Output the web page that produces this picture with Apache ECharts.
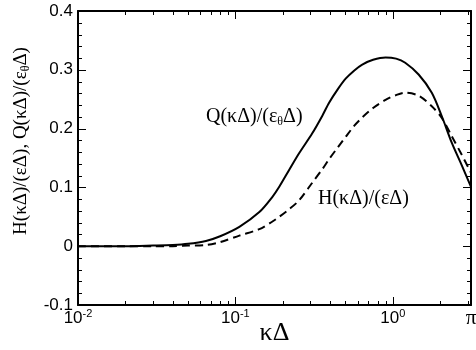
<!DOCTYPE html>
<html>
<head>
<meta charset="utf-8">
<script src="https://cdn.jsdelivr.net/npm/echarts@6/dist/echarts.min.js"></script>
<style>
  html, body { margin: 0; padding: 0; background: #fff; }
  #chart { width: 476px; height: 350px; }
</style>
</head>
<body>
<div id="chart"></div>
<script>
// kappa*Delta values and the two curves
var kx = [0.01, 0.02, 0.03, 0.04, 0.05, 0.065, 0.08, 0.106, 0.142, 0.172, 0.19, 0.22, 0.254, 0.308, 0.357, 0.394, 0.45, 0.502, 0.57, 0.64, 0.75, 0.9, 1.05, 1.2, 1.46, 1.77, 2.05, 2.37, 2.75, Math.PI];
var qVals = [0, 0, 0.001, 0.002, 0.004, 0.009, 0.017, 0.033, 0.058, 0.084, 0.101, 0.13, 0.158, 0.192, 0.222, 0.244, 0.268, 0.285, 0.299, 0.309, 0.317, 0.321, 0.319, 0.312, 0.292, 0.261, 0.221, 0.176, 0.137, 0.101];
var hVals = [0, 0, 0, 0, 0.001, 0.002, 0.007, 0.018, 0.029, 0.042, 0.05, 0.063, 0.078, 0.108, 0.131, 0.148, 0.169, 0.186, 0.205, 0.219, 0.235, 0.249, 0.257, 0.261, 0.256, 0.238, 0.218, 0.187, 0.155, 0.125];

var xMajor = [0.01, 0.1, 1];
var xLabels = [0.01, 0.1, 1, Math.PI];
var xMinor = [0.02, 0.03, 0.04, 0.05, 0.06, 0.07, 0.08, 0.09, 0.2, 0.3, 0.4, 0.5, 0.6, 0.7, 0.8, 0.9, 2, 3];
var yMajor = [-0.1, 0, 0.1, 0.2, 0.3, 0.4];
var yMinor = [-0.08, -0.06, -0.04, -0.02, 0.02, 0.04, 0.06, 0.08, 0.12, 0.14, 0.16, 0.18, 0.22, 0.24, 0.26, 0.28, 0.32, 0.34, 0.36, 0.38];

var X_MIN = 0.01, X_MAX = Math.PI, Y_MIN = -0.1, Y_MAX = 0.4;

function pairs(xs, ys) {
  return xs.map(function (x, i) { return [x, ys[i]]; });
}

var chartDom = document.getElementById('chart');
var myChart = echarts.init(chartDom);
var option;

var sansFont = '"Liberation Sans", Arial, sans-serif';
var serifFont = '"Liberation Serif", "Times New Roman", serif';
var frameLine = { show: true, onZero: false, lineStyle: { color: '#000', width: 2 } };

// tick data: [x, y, length in px]
var xTickData = xMajor.map(function (v) { return [v, Y_MIN, 8]; })
  .concat(xMinor.map(function (v) { return [v, Y_MIN, 4]; }));
var yTickData = yMajor.map(function (v) { return [X_MIN, v, 8]; })
  .concat(yMinor.map(function (v) { return [X_MIN, v, 4]; }));

var tickStyle = { stroke: '#000', lineWidth: 1 };

// inward ticks on bottom and top edges
function renderXTick(params, api) {
  var v = api.value(0), len = api.value(2);
  var b = api.coord([v, Y_MIN]);
  var t = api.coord([v, Y_MAX]);
  var x = Math.round(b[0]) + 0.5;
  return {
    type: 'group',
    children: [
      { type: 'line', shape: { x1: x, y1: b[1], x2: x, y2: b[1] - len }, style: tickStyle },
      { type: 'line', shape: { x1: x, y1: t[1], x2: x, y2: t[1] + len }, style: tickStyle }
    ]
  };
}

// inward ticks on left and right edges
function renderYTick(params, api) {
  var v = api.value(1), len = api.value(2);
  var l = api.coord([X_MIN, v]);
  var r = api.coord([X_MAX, v]);
  var y = Math.round(l[1]) + 0.5;
  return {
    type: 'group',
    children: [
      { type: 'line', shape: { x1: l[0], y1: y, x2: l[0] + len, y2: y }, style: tickStyle },
      { type: 'line', shape: { x1: r[0], y1: y, x2: r[0] - len, y2: y }, style: tickStyle }
    ]
  };
}

option = {
  animation: false,
  backgroundColor: '#fff',
  grid: { left: 78, right: 5, top: 11, bottom: 45, containLabel: false, outerBoundsMode: 'none' },
  xAxis: [
    {
      type: 'log', min: X_MIN, max: X_MAX, position: 'bottom',
      name: 'κΔ', nameLocation: 'middle', nameGap: 15, nameMoveOverlap: false,
      nameTextStyle: { fontFamily: serifFont, fontSize: 26, color: '#000' },
      axisLine: frameLine,
      axisTick: { show: false },
      axisLabel: {
        show: true, customValues: xLabels, margin: 3,
        formatter: function (v) {
          if (Math.abs(v - Math.PI) < 1e-6) return '{pi|π}';
          return '{b|10}{sup|' + Math.round(Math.log10(v)) + '}';
        },
        rich: {
          b: { fontFamily: sansFont, fontSize: 17, color: '#000' },
          sup: { fontFamily: sansFont, fontSize: 11, color: '#000', padding: [0, 0, 9, 0] },
          pi: { fontFamily: serifFont, fontSize: 21, color: '#000' }
        }
      },
      splitLine: { show: false }
    },
    {
      type: 'log', min: X_MIN, max: X_MAX, position: 'top',
      axisLine: frameLine, axisTick: { show: false }, axisLabel: { show: false }, splitLine: { show: false }
    }
  ],
  yAxis: [
    {
      type: 'value', min: Y_MIN, max: Y_MAX, interval: 0.1, position: 'left',
      axisLine: frameLine,
      axisTick: { show: false },
      axisLabel: {
        show: true, margin: 5, color: '#000', fontFamily: sansFont, fontSize: 17,
        formatter: function (v) { return Math.abs(v) < 1e-9 ? '0' : String(Math.round(v * 10) / 10); }
      },
      splitLine: { show: false }
    },
    {
      type: 'value', min: Y_MIN, max: Y_MAX, interval: 0.1, position: 'right',
      axisLine: frameLine, axisTick: { show: false }, axisLabel: { show: false }, splitLine: { show: false }
    }
  ],
  series: [
    {
      name: 'Q',
      type: 'line',
      smooth: 0.3,
      showSymbol: false,
      xAxisIndex: 0,
      yAxisIndex: 0,
      data: pairs(kx, qVals),
      lineStyle: { color: '#000', width: 2 }
    },
    {
      name: 'H',
      type: 'line',
      smooth: 0.3,
      showSymbol: false,
      xAxisIndex: 0,
      yAxisIndex: 0,
      data: pairs(kx, hVals),
      lineStyle: { color: '#000', width: 2, type: [8, 5] }
    },
    {
      name: 'xTicks',
      type: 'custom',
      xAxisIndex: 0,
      yAxisIndex: 0,
      silent: true,
      clip: false,
      renderItem: renderXTick,
      data: xTickData
    },
    {
      name: 'yTicks',
      type: 'custom',
      xAxisIndex: 0,
      yAxisIndex: 0,
      silent: true,
      clip: false,
      renderItem: renderYTick,
      data: yTickData
    }
  ],
  graphic: [
    {
      type: 'text',
      x: 21,
      y: 141,
      rotation: Math.PI / 2,
      style: {
        text: '{n|H(κΔ)/(εΔ), Q(κΔ)/(ε}{sub|θ}{n|Δ)}',
        align: 'center',
        verticalAlign: 'middle',
        rich: {
          n: { fontFamily: serifFont, fontSize: 19, fill: '#000' },
          sub: { fontFamily: serifFont, fontSize: 12, fill: '#000', padding: [9, 0, 0, 0] }
        }
      }
    },
    {
      type: 'text',
      left: 206,
      top: 107,
      style: {
        text: '{n|Q(κΔ)/(ε}{sub|θ}{n|Δ)}',
        rich: {
          n: { fontFamily: serifFont, fontSize: 20, fill: '#000' },
          sub: { fontFamily: serifFont, fontSize: 12, fill: '#000', padding: [10, 0, 0, 0] }
        }
      }
    },
    {
      type: 'text',
      left: 318,
      top: 189,
      style: { text: 'H(κΔ)/(εΔ)', font: '20px ' + serifFont, fill: '#000' }
    }
  ]
};

option && myChart.setOption(option);
</script>
</body>
</html>
